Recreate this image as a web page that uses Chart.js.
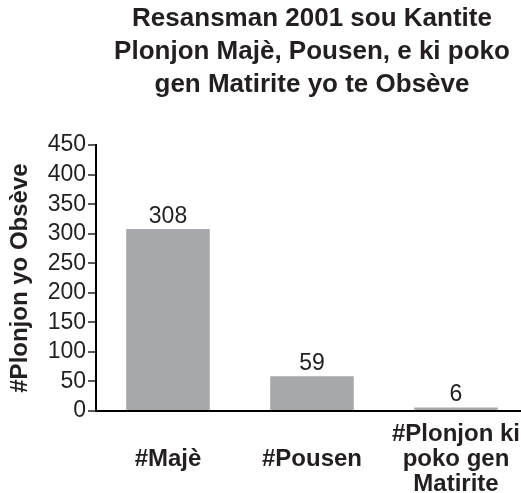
<!DOCTYPE html>
<html>
<head>
<meta charset="utf-8">
<script src="https://cdn.jsdelivr.net/npm/chart.js@4/dist/chart.umd.min.js"></script>
<style>
html,body{margin:0;padding:0;background:#fff;overflow:hidden;}
canvas{display:block;}
</style>
</head>
<body>
<canvas id="c" width="528" height="493"></canvas>
<script>
const titleLines = ["Resansman 2001 sou Kantite", "Plonjon Majè, Pousen, e ki poko", "gen Matirite yo te Obsève"];
const categories = [["#Majè"], ["#Pousen"], ["#Plonjon ki", "poko gen", "Matirite"]];
const values = [308, 59, 6];
const yAxisTitle = "#Plonjon yo Obsève";
const yMin = 0, yMax = 450, yStep = 50;

const textColor = '#231f20';
const font = '"Liberation Sans", Arial, Helvetica, sans-serif';

const valueLabels = {
  id: 'valueLabels',
  afterDatasetsDraw(chart) {
    const ctx = chart.ctx;
    const meta = chart.getDatasetMeta(0);
    ctx.save();
    ctx.fillStyle = textColor;
    ctx.font = '23px ' + font;
    ctx.textAlign = 'center';
    ctx.textBaseline = 'alphabetic';
    meta.data.forEach((bar, i) => {
      ctx.fillText(String(values[i]), bar.x, bar.y - 6);
    });
    ctx.restore();
  }
};

new Chart(document.getElementById('c'), {
  type: 'bar',
  data: {
    labels: categories,
    datasets: [{
      data: values,
      backgroundColor: '#a7a8ab',
      borderWidth: 0,
      barPercentage: 0.58,
      categoryPercentage: 1.0
    }]
  },
  options: {
    responsive: false,
    animation: false,
    layout: { padding: { left: 6, right: 0, top: 0, bottom: 0 } },
    plugins: {
      legend: { display: false },
      tooltip: { enabled: false },
      title: {
        display: true,
        fullSize: false,
        text: titleLines,
        color: textColor,
        font: { family: font, size: 26, weight: 'bold', lineHeight: 1.27 },
        padding: { top: 2, bottom: 44 }
      }
    },
    scales: {
      x: {
        grid: { display: false, drawTicks: false },
        border: { display: true, color: '#000', width: 2 },
        ticks: {
          color: textColor,
          font: { family: font, size: 24, weight: 'bold', lineHeight: 1.04 },
          padding: 23,
          maxRotation: 0,
          autoSkip: false,
          crossAlign: 'center'
        },
        afterFit(s) { s.height = 82; s.paddingLeft = 0; s.paddingRight = 0; }
      },
      y: {
        min: yMin,
        max: yMax,
        grid: { drawOnChartArea: false, color: '#000', lineWidth: 2, tickWidth: 1.3, tickLength: 8 },
        border: { display: true, color: '#000', width: 2 },
        ticks: {
          stepSize: yStep,
          autoSkip: false,
          color: textColor,
          font: { family: font, size: 23 },
          padding: 2
        },
        title: {
          display: true,
          text: yAxisTitle,
          color: textColor,
          font: { family: font, size: 24, weight: 'bold' },
          padding: { top: 0, bottom: 4 }
        },
        afterFit(s) { s.width = 90; }
      }
    }
  },
  plugins: [valueLabels]
});
</script>
</body>
</html>
